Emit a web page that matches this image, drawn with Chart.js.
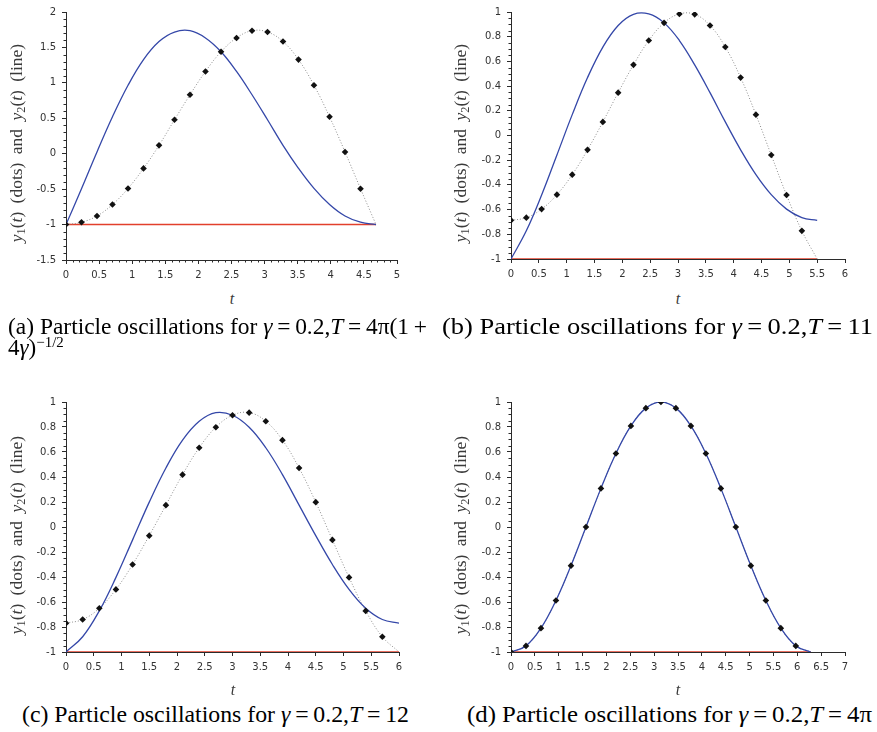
<!DOCTYPE html>
<html>
<head>
<meta charset="utf-8">
<script src="https://cdn.jsdelivr.net/npm/chart.js@4.4.1/dist/chart.umd.min.js"></script>
<style>
  html, body { margin: 0; padding: 0; background: #fff; }
  #fig { position: relative; width: 877px; height: 732px; overflow: hidden; background: #fff; }
  .panel { position: absolute; }
  .ytitle {
    position: absolute; white-space: nowrap;
    font-family: 'Liberation Serif', serif; font-size: 17.5px; color: #3a3a3a;
    transform: translate(-50%, -50%) rotate(-90deg); word-spacing: 4px; line-height: 1;
  }
  .ytitle sub { font-size: 70%; vertical-align: -0.25em; line-height: 0; }
  .xtitle {
    position: absolute; font-family: 'Liberation Serif', serif; font-style: italic;
    font-size: 16px; color: #3a3a3a; transform: translate(-50%, -50%); line-height: 1;
  }
  .cap {
    position: absolute; white-space: nowrap; font-family: 'Liberation Serif', serif;
    font-size: 23px; color: #000; line-height: 1; transform-origin: 0 50%;
  }
  .cap sup { font-size: 65%; vertical-align: 0.55em; line-height: 0; }
</style>
</head>
<body>
<div id="fig">
  <div class="panel" style="left:0;top:0;width:430px;height:290px"><canvas id="pa" width="430" height="290"></canvas></div>
  <div class="panel" style="left:440px;top:0;width:437px;height:290px"><canvas id="pb" width="437" height="290"></canvas></div>
  <div class="panel" style="left:0;top:390px;width:430px;height:300px"><canvas id="pc" width="430" height="300"></canvas></div>
  <div class="panel" style="left:440px;top:390px;width:437px;height:300px"><canvas id="pd" width="437" height="300"></canvas></div>

  <div class="ytitle" style="left:17px;top:143px"><i>y</i><sub>1</sub>(<i>t</i>) (dots) and <i>y</i><sub>2</sub>(<i>t</i>) (line)</div>
  <div class="ytitle" style="left:461px;top:143px"><i>y</i><sub>1</sub>(<i>t</i>) (dots) and <i>y</i><sub>2</sub>(<i>t</i>) (line)</div>
  <div class="ytitle" style="left:17px;top:535px"><i>y</i><sub>1</sub>(<i>t</i>) (dots) and <i>y</i><sub>2</sub>(<i>t</i>) (line)</div>
  <div class="ytitle" style="left:461px;top:535px"><i>y</i><sub>1</sub>(<i>t</i>) (dots) and <i>y</i><sub>2</sub>(<i>t</i>) (line)</div>

  <div class="xtitle" style="left:232px;top:299px">t</div>
  <div class="xtitle" style="left:678px;top:299px">t</div>
  <div class="xtitle" style="left:233px;top:690px">t</div>
  <div class="xtitle" style="left:678px;top:690px">t</div>

  <div class="cap" data-w="419" style="left:8px;top:315px">(a) Particle oscillations for <i>γ</i>&#8201;=&#8201;0.2,<i>T</i>&#8201;=&#8201;4π(1&#8201;+</div>
  <div class="cap" data-w="70" style="left:8px;top:336px">4<i>γ</i>)<sup>−1/2</sup></div>
  <div class="cap" data-w="431" style="left:442px;top:315px">(b) Particle oscillations for <i>γ</i>&#8201;=&#8201;0.2,<i>T</i>&#8201;=&#8201;11</div>
  <div class="cap" data-w="387" style="left:22px;top:703px">(c) Particle oscillations for <i>γ</i>&#8201;=&#8201;0.2,<i>T</i>&#8201;=&#8201;12</div>
  <div class="cap" data-w="405" style="left:467px;top:703px">(d) Particle oscillations for <i>γ</i>&#8201;=&#8201;0.2,<i>T</i>&#8201;=&#8201;4π</div>
</div>

<script>
// Sample times (0 .. T/2) and solution values for each case.
// (a) gamma = 0.2, T = 4*pi*(1+4*gamma)^(-1/2)
const tA    = [0, 0.234, 0.468, 0.702, 0.937, 1.171, 1.405, 1.639, 1.873, 2.107, 2.342, 2.576, 2.810, 3.044, 3.278, 3.512, 3.746, 3.981, 4.215, 4.449, 4.683];
const dotsA = [-1, -0.967, -0.879, -0.717, -0.490, -0.207, 0.118, 0.479, 0.832, 1.161, 1.439, 1.634, 1.736, 1.717, 1.583, 1.328, 0.966, 0.521, 0.025, -0.494, -1];
const lineA = [-1, -0.494, 0.025, 0.521, 0.966, 1.328, 1.583, 1.717, 1.736, 1.634, 1.439, 1.161, 0.832, 0.479, 0.118, -0.207, -0.490, -0.717, -0.879, -0.967, -1];

// (b) gamma = 0.2, T = 11
const tB    = [0, 0.275, 0.55, 0.825, 1.1, 1.375, 1.65, 1.925, 2.2, 2.475, 2.75, 3.025, 3.3, 3.575, 3.85, 4.125, 4.4, 4.675, 4.95, 5.225, 5.5];
const dotsB = [-0.687, -0.665, -0.596, -0.479, -0.317, -0.116, 0.110, 0.347, 0.572, 0.769, 0.912, 0.984, 0.981, 0.891, 0.716, 0.469, 0.169, -0.158, -0.482, -0.772, -1];
const lineB = [-1, -0.772, -0.482, -0.158, 0.169, 0.469, 0.716, 0.891, 0.981, 0.984, 0.912, 0.769, 0.572, 0.347, 0.110, -0.116, -0.317, -0.479, -0.596, -0.665, -0.687];

// (c) gamma = 0.2, T = 12
const tC    = [0, 0.3, 0.6, 0.9, 1.2, 1.5, 1.8, 2.1, 2.4, 2.7, 3.0, 3.3, 3.6, 3.9, 4.2, 4.5, 4.8, 5.1, 5.4, 5.7, 6.0];
const dotsC = [-0.769, -0.740, -0.650, -0.499, -0.300, -0.069, 0.175, 0.419, 0.634, 0.798, 0.894, 0.915, 0.846, 0.695, 0.472, 0.199, -0.103, -0.403, -0.671, -0.878, -1];
const lineC = [-1, -0.878, -0.671, -0.403, -0.103, 0.199, 0.472, 0.695, 0.846, 0.915, 0.894, 0.798, 0.634, 0.419, 0.175, -0.069, -0.300, -0.499, -0.650, -0.740, -0.769];

// (d) gamma = 0.2, T = 4*pi
const tD    = [0, 0.314, 0.628, 0.942, 1.257, 1.571, 1.885, 2.199, 2.513, 2.827, 3.142, 3.456, 3.770, 4.084, 4.398, 4.712, 5.027, 5.341, 5.655, 5.969, 6.283];
const dotsD = [-1, -0.951, -0.809, -0.588, -0.309, 0, 0.309, 0.588, 0.809, 0.951, 1, 0.951, 0.809, 0.588, 0.309, 0, -0.309, -0.588, -0.809, -0.951, -1];
const lineD = [-1, -0.951, -0.809, -0.588, -0.309, 0, 0.309, 0.588, 0.809, 0.951, 1, 0.951, 0.809, 0.588, 0.309, 0, -0.309, -0.588, -0.809, -0.951, -1];

// Lower bound y = -1 drawn as the red reference line
const floorLevel = -1;

// Axis ranges and tick spacing: [min, max, major step, minor step]
const xAxisA = [0, 5, 0.5, 0.1],  yAxisA = [-1.5, 2, 0.5, 0.1];
const xAxisB = [0, 6, 0.5, 0],    yAxisB = [-1, 1, 0.2, 0.05];
const xAxisC = [0, 6, 0.5, 0],    yAxisC = [-1, 1, 0.2, 0.05];
const xAxisD = [0, 7, 0.5, 0],    yAxisD = [-1, 1, 0.2, 0.05];

const AXIS_COLOR = '#2b2b2b';
const BLUE = '#3447a8';
const RED = '#e2402c';

// Short unlabeled ticks between the labelled ones
const minorTicks = {
  id: 'minorTicks',
  afterDraw(chart, args, opts) {
    const ctx = chart.ctx;
    ['x', 'y'].forEach(id => {
      const step = opts[id];
      if (!step) return;
      const s = chart.scales[id];
      const major = s.options.ticks.stepSize;
      const n = Math.round((s.max - s.min) / step);
      ctx.save();
      ctx.strokeStyle = AXIS_COLOR;
      ctx.lineWidth = 1;
      for (let i = 0; i <= n; i++) {
        const v = s.min + i * step;
        const r = v / major;
        if (Math.abs(r - Math.round(r)) < 1e-6) continue;
        const p = Math.round(s.getPixelForValue(v)) + 0.5;
        ctx.beginPath();
        if (id === 'x') { ctx.moveTo(p, s.top); ctx.lineTo(p, s.top + 2.5); }
        else { ctx.moveTo(s.right, p); ctx.lineTo(s.right - 2.5, p); }
        ctx.stroke();
      }
      ctx.restore();
    });
  }
};

function pairs(ts, ys) { return ts.map((t, i) => ({ x: t, y: ys[i] })); }

function fmt(v) { return String(Number(v.toFixed(3))); }

function axis(range, fixed, isX) {
  const [min, max, step] = range;
  return {
    type: 'linear', min, max,
    border: { display: true, color: AXIS_COLOR, width: 1 },
    grid: { display: true, drawOnChartArea: false, drawTicks: true, tickLength: 4, tickColor: AXIS_COLOR, tickWidth: 1 },
    ticks: {
      stepSize: step, autoSkip: false, maxRotation: 0, minRotation: 0,
      padding: isX ? 5 : 6,
      color: '#333', font: { family: 'DejaVu Sans', size: 10 },
      callback: v => fmt(v)
    },
    afterFit: s => { if (isX) s.height = fixed; else s.width = fixed; }
  };
}

function makePanel(id, ts, dots, line, xr, yr, box) {
  const last = ts.length - 1;
  new Chart(document.getElementById(id), {
    type: 'scatter',
    data: {
      datasets: [
        { // sample markers of y1
          data: pairs(ts.slice(0, last), dots.slice(0, last)),
          showLine: false, pointStyle: 'rectRot', pointRadius: 3.3,
          pointBackgroundColor: '#111', pointBorderWidth: 0, order: 0
        },
        { // y2 solid curve
          data: pairs(ts, line), showLine: true, borderColor: BLUE, borderWidth: 1.3,
          pointRadius: 0, tension: 0.4, order: 1
        },
        { // y1 dotted connecting curve
          data: pairs(ts, dots), showLine: true, borderColor: '#8a8a8a', borderWidth: 1,
          borderDash: [1, 2], pointRadius: 0, tension: 0.4, order: 2
        },
        { // reference level
          data: [{ x: ts[0], y: floorLevel }, { x: ts[last], y: floorLevel }],
          showLine: true, borderColor: RED, borderWidth: 1.6, pointRadius: 0, order: 3
        }
      ]
    },
    options: {
      responsive: false, animation: false, events: [],
      layout: { padding: { left: 0, top: box.top, right: box.right, bottom: 0 } },
      plugins: { legend: { display: false }, tooltip: { enabled: false }, minorTicks: { x: xr[3], y: yr[3] } },
      scales: { x: axis(xr, box.xh, true), y: axis(yr, box.yw, false) }
    },
    plugins: [minorTicks]
  });
}

makePanel('pa', tA, dotsA, lineA, xAxisA, yAxisA, { top: 8, right: 33, xh: 30, yw: 66 });
makePanel('pb', tB, dotsB, lineB, xAxisB, yAxisB, { top: 8, right: 32, xh: 31, yw: 71 });
makePanel('pc', tC, dotsC, lineC, xAxisC, yAxisC, { top: 11, right: 31, xh: 38, yw: 66 });
makePanel('pd', tD, dotsD, lineD, xAxisD, yAxisD, { top: 11, right: 32, xh: 38, yw: 71 });

// Fit each caption line to its column width
document.querySelectorAll('.cap').forEach(el => {
  const target = Number(el.dataset.w);
  const natural = el.getBoundingClientRect().width;
  if (target && natural && el.textContent.length > 12) {
    el.style.transform = 'scaleX(' + (target / natural).toFixed(4) + ')';
  }
});
</script>
</body>
</html>
